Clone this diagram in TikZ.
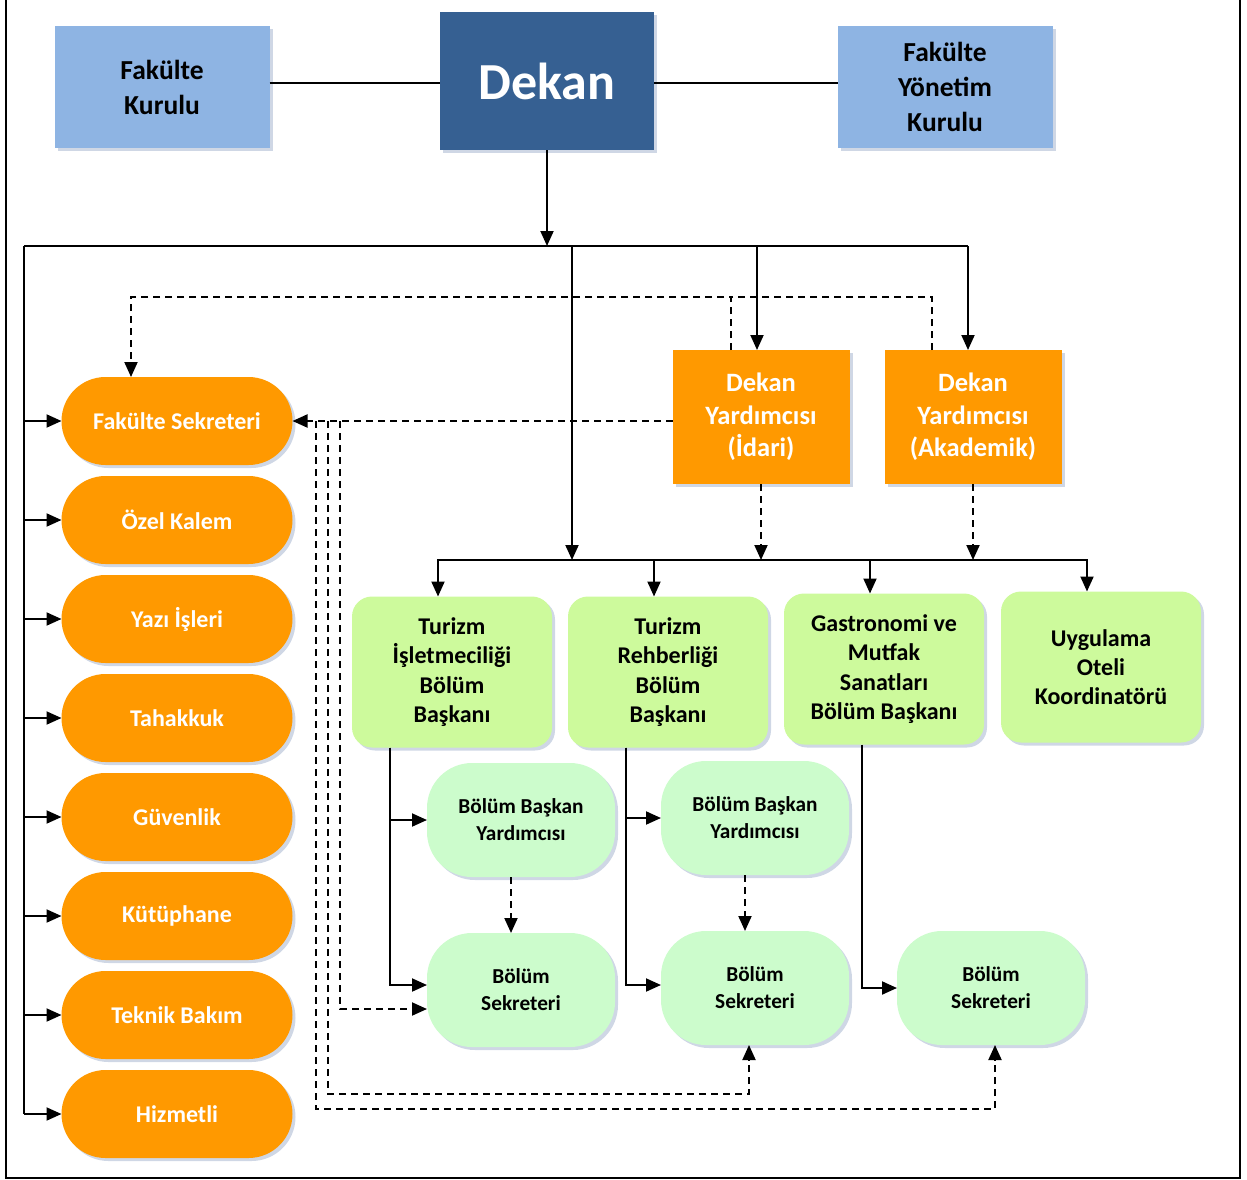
\documentclass[tikz,border=0pt]{standalone}
\usepackage{fontspec}
\setmainfont{Carlito}
\usetikzlibrary{%
  arrows.meta,%
  positioning,% wg. " of "
  shadows%
}
\definecolor{kurulmavi}{HTML}{8EB4E3}
\definecolor{dekanmavi}{HTML}{366092}
\definecolor{turuncu}{HTML}{FF9900}
\definecolor{yesil}{HTML}{CDFA9C}
\definecolor{acikyesil}{HTML}{CCFCCC}
\definecolor{golge}{HTML}{9FB0CC}

\begin{document}
\begin{tikzpicture}[x=1pt,y=-1pt,line width=2pt,>={Triangle[length=15pt,width=13pt]},
  golgeli/.style={outer sep=0pt,inner sep=0pt,
    drop shadow={shadow xshift=3pt,shadow yshift=-3pt,fill=golge,opacity=0.5}},
  kurul/.style={golgeli,fill=kurulmavi,minimum width=215pt,minimum height=121pt,
    align=center,font=\fontsize{27.5}{35}\selectfont\bfseries},
  dekanbox/.style={golgeli,fill=dekanmavi,text=white,minimum width=214pt,minimum height=138pt,
    font=\fontsize{52}{60}\selectfont\bfseries},
  yardimci/.style={golgeli,fill=turuncu,text=white,minimum width=177pt,minimum height=134pt,
    align=center,font=\fontsize{26.5}{32.5}\selectfont\bfseries},
  birim/.style={golgeli,fill=turuncu,text=white,rounded corners=44pt,minimum width=231pt,
    minimum height=88pt,font=\fontsize{24}{28}\selectfont\bfseries},
  baskan/.style={golgeli,fill=yesil,rounded corners=20pt,minimum width=200pt,minimum height=151pt,
    align=center,font=\fontsize{24}{29.3}\selectfont\bfseries},
  alt/.style={golgeli,fill=acikyesil,rounded corners=45pt,minimum width=188pt,minimum height=114pt,
    align=center,font=\fontsize{21.3}{27}\selectfont\bfseries},
  kesik/.style={dash pattern=on 7pt off 5pt}]
  \useasboundingbox (0,0) rectangle (1247,1180);
  \draw[line width=2pt] (6,0) -- (6,1178) -- (1240,1178) -- (1240,0);

  % ust kademe
  \node[kurul] (fk) at (162,87) {Fakülte\\Kurulu};
  \node[dekanbox] (dekan) at (547,81) {Dekan};
  \node[kurul] (fyk) at (945,87) {Fakülte\\Yönetim\\Kurulu};

  % dekan yardimcilari
  \node[yardimci] (idari) at (761,417) {Dekan\\Yardımcısı\\(İdari)};
  \node[yardimci] (akademik) [right=35pt of idari] {Dekan\\Yardımcısı\\(Akademik)};

  % idari birimler
  \node[birim] (sekreter) at (177,421) {Fakülte Sekreteri};
  \node[birim] (kalem) [below=11pt of sekreter] {Özel Kalem};
  \node[birim] (yazi) [below=11pt of kalem] {Yazı İşleri};
  \node[birim] (tahakkuk) [below=11pt of yazi] {Tahakkuk};
  \node[birim] (guvenlik) [below=11pt of tahakkuk] {Güvenlik};
  \node[birim] (kutuphane) [below=11pt of guvenlik] {Kütüphane};
  \node[birim] (bakim) [below=11pt of kutuphane] {Teknik Bakım};
  \node[birim] (hizmetli) [below=11pt of bakim] {Hizmetli};

  % bolumler
  \node[baskan] (tibb) at (452,672) {Turizm\\İşletmeciliği\\Bölüm\\Başkanı};
  \node[baskan] (trbb) [right=16pt of tibb] {Turizm\\Rehberliği\\Bölüm\\Başkanı};
  \node[baskan] (gmsbb) [right=16pt of trbb, yshift=3pt] {Gastronomi ve\\Mutfak\\Sanatları\\Bölüm Başkanı};
  \node[baskan] (uok) [right=17pt of gmsbb, yshift=2pt] {Uygulama\\Oteli\\Koordinatörü};

  \node[alt] (bby1) at (521,820) {Bölüm Başkan\\Yardımcısı};
  \node[alt] (bs1) [below=56pt of bby1] {Bölüm\\Sekreteri};
  \node[alt] (bby2) at (755,818) {Bölüm Başkan\\Yardımcısı};
  \node[alt] (bs2) [below=56pt of bby2] {Bölüm\\Sekreteri};
  \node[alt] (bs3) [right=48pt of bs2] {Bölüm\\Sekreteri};

  \coordinate (solbus) at (24,246);
  \coordinate (dekanbus) at (547,246);
  \coordinate (ortabus) at (572,246);
  \coordinate (sagbus) at (968,246);
  \coordinate (yesilbus) at (572,560);
  \coordinate (kesikust) at (131,297);
  \coordinate (k1) at (340,421);
  \coordinate (k2) at (328,421);
  \coordinate (k3) at (316,421);

  % duz baglantilar
  \draw (fk.east |- 0,83) -- (dekan.west |- 0,83);
  \draw (dekan.east |- 0,83) -- (fyk.west |- 0,83);
  \draw[->] (dekan) -- (dekanbus);
  \draw (solbus) -- (sagbus);
  \draw (solbus) -- (solbus |- hizmetli.west);
  \foreach \b in {sekreter,kalem,yazi,tahakkuk,guvenlik,kutuphane,bakim,hizmetli}
    \draw[->] (solbus |- \b.west) -- (\b.west);
  \draw[->] (sagbus) -- (sagbus |- akademik.north);
  \draw[->] ([xshift=-4pt]idari.north |- sagbus) -- ([xshift=-4pt]idari.north);
  \draw[->] (ortabus) -- (yesilbus);
  \draw ([xshift=-15pt]tibb.north |- yesilbus) -- ([xshift=-13pt]uok.north |- yesilbus);
  \foreach \n in {tibb,trbb,gmsbb,uok}
    \draw[->] ([xshift=-14pt]\n.north |- yesilbus) -- ([xshift=-14pt]\n.north);
  \draw[->] ([xshift=-62pt]tibb.south) |- (bby1.west);
  \draw[->] ([xshift=-62pt]tibb.south) |- ([yshift=5pt]bs1.west);
  \draw[->] ([xshift=-42pt]trbb.south) |- (bby2.west);
  \draw[->] ([xshift=-42pt]trbb.south) |- ([yshift=3pt]bs2.west);
  \draw[->] ([xshift=-22pt]gmsbb.south) |- (bs3.west);

  % kesik baglantilar
  \draw[kesik,->] ([xshift=-30pt]idari.north) |- (kesikust) -- (kesikust |- sekreter.north);
  \draw[kesik] ([xshift=-41pt]akademik.north) |- ([xshift=-30pt]idari.north |- kesikust);
  \draw[kesik,->] (idari.south) -- (idari.south |- yesilbus);
  \draw[kesik,->] (akademik.south) -- (akademik.south |- yesilbus);
  \draw[kesik,->] (sekreter.east -| idari.west) -- (sekreter.east);
  \draw[kesik,->] (k1) |- ([yshift=-19pt]bs1.west);
  \draw[kesik,->] (k2) |- ([xshift=-6pt]bs2.south |- 0,1094) -- ([xshift=-6pt]bs2.south);
  \draw[kesik,->] (k3) |- ([xshift=4pt]bs3.south |- 0,1109) -- ([xshift=4pt]bs3.south);
  \draw[kesik,->] ([xshift=-10pt]bby1.south) -- ([xshift=-10pt]bby1.south |- bs1.north);
  \draw[kesik,->] ([xshift=-10pt]bby2.south) -- ([xshift=-10pt]bby2.south |- bs2.north);
\end{tikzpicture}
\end{document}
